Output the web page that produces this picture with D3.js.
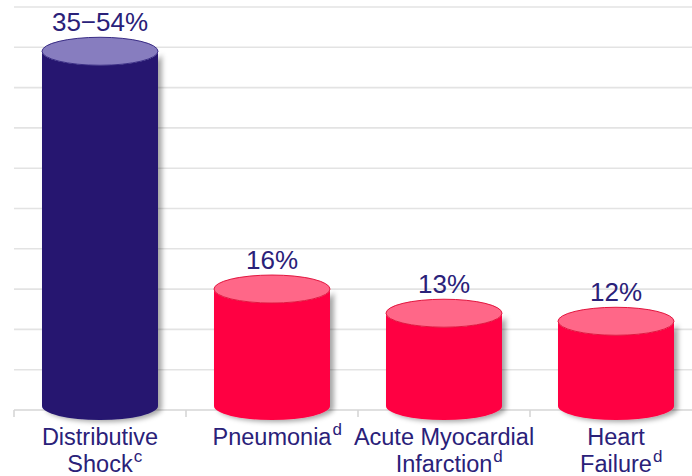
<!DOCTYPE html>
<html>
<head>
<meta charset="utf-8">
<script src="https://cdn.jsdelivr.net/npm/d3@7"></script>
<style>
  html, body { margin: 0; padding: 0; background: #fff; }
  svg { display: block; font-family: "Liberation Sans", Arial, sans-serif; }
</style>
</head>
<body>
<svg id="chart" width="692" height="476"></svg>
<script>
// Categories (first line, second line, footnote mark)
const categoryLine1 = ["Distributive", "Pneumonia", "Acute Myocardial", "Heart"];
const categoryLine2 = ["Shock", "", "Infarction", "Failure"];
const footnotes     = ["c", "d", "d", "d"];
const categoryKeys  = ["Distributive Shock", "Pneumonia", "Acute Myocardial Infarction", "Heart Failure"];

// Bar heights in percent (the first bar shows the reported range 35–54%)
const barValues   = [45.5, 16, 13, 12];
const rangeLabel  = [35, 54];
const valueLabels = [`${rangeLabel[0]}\u2212${rangeLabel[1]}%`, `${barValues[1]}%`, `${barValues[2]}%`, `${barValues[3]}%`];

// Gridline values
const gridTicks = [0, 5, 10, 15, 20, 25, 30, 35, 40, 45, 50];

const sideColors = ["#25176f", "#ff0342", "#ff0342", "#ff0342"];
const topColors  = ["#877dbf", "#ff6788", "#ff6788", "#ff6788"];
const rimColors  = ["#3a2d85", "#e2163f", "#e2163f", "#e2163f"];

const svg = d3.select("#chart");

const x = d3.scaleBand().domain(categoryKeys).range([14, 702]).padding(0);
const y = d3.scaleLinear().domain([0, 50]).range([410, 7]);

const barW = 116;
const ry = 14;
const depthShift = 8;          // cylinder sits in front of the back wall
const baseCy = y(0) - 4;       // centre of the bottom ellipse

// drop shadow
const defs = svg.append("defs");
const f = defs.append("filter").attr("id", "shadow")
  .attr("x", "-20%").attr("y", "-10%").attr("width", "140%").attr("height", "130%");
f.append("feDropShadow").attr("dx", 4).attr("dy", 2)
  .attr("stdDeviation", 2.5).attr("flood-color", "#000").attr("flood-opacity", 0.35);

// gridlines
svg.append("g").selectAll("line")
  .data(gridTicks.filter(d => d > 0))
  .join("line")
  .attr("x1", 14).attr("x2", 692)
  .attr("y1", d => y(d)).attr("y2", d => y(d))
  .attr("stroke", "#e3e3e3").attr("stroke-width", 1.6);

// baseline axis with ticks between categories
const axis = d3.axisBottom(x).tickSize(0).tickFormat("");
const axisG = svg.append("g").attr("transform", `translate(0,${y(0)})`).call(axis);
axisG.select(".domain").attr("stroke", "#d6d6d6").attr("stroke-width", 1.6)
  .attr("d", `M14,0H692`);
axisG.selectAll(".tick").remove();
axisG.selectAll("line.sep")
  .data(categoryKeys)
  .join("line")
  .attr("class", "sep")
  .attr("x1", d => x(d)).attr("x2", d => x(d))
  .attr("y1", 0).attr("y2", 7)
  .attr("stroke", "#d6d6d6").attr("stroke-width", 1.6);

// cylinders
const bars = svg.append("g").selectAll("g.bar")
  .data(categoryKeys.map((k, i) => ({ k, i, v: barValues[i] })))
  .join("g").attr("class", "bar");

bars.each(function(d) {
  const g = d3.select(this);
  const cx = x(d.k) + x.bandwidth() / 2;
  const rx = barW / 2;
  const topCy = y(d.v) + depthShift;
  const body = `M${cx - rx},${topCy} L${cx - rx},${baseCy} ` +
    `A${rx},${ry} 0 0 0 ${cx + rx},${baseCy} L${cx + rx},${topCy} ` +
    `A${rx},${ry} 0 0 1 ${cx - rx},${topCy} Z`;
  g.append("path").attr("d", body).attr("fill", sideColors[d.i]).attr("filter", "url(#shadow)");
  g.append("ellipse")
    .attr("cx", cx).attr("cy", topCy).attr("rx", rx).attr("ry", ry)
    .attr("fill", topColors[d.i]).attr("stroke", rimColors[d.i]).attr("stroke-width", 1);
  // value label
  g.append("text")
    .attr("x", cx).attr("y", topCy - 20)
    .attr("text-anchor", "middle")
    .attr("font-size", 26).attr("fill", "#2a2179")
    .text(valueLabels[d.i]);
});

// category labels
const labels = svg.append("g").selectAll("g.lab")
  .data(categoryKeys.map((k, i) => ({ k, i })))
  .join("g").attr("class", "lab");

labels.each(function(d) {
  const g = d3.select(this);
  const cx = x(d.k) + x.bandwidth() / 2;
  const lines = [categoryLine1[d.i], categoryLine2[d.i]].filter(s => s);
  lines.forEach((s, j) => {
    const t = g.append("text")
      .attr("x", cx).attr("y", 445 + j * 27)
      .attr("text-anchor", "middle")
      .attr("font-size", 23.5).attr("fill", "#2a2179")
      .text(s);
    if (j === lines.length - 1) {
      const w = t.node().getComputedTextLength();
      g.append("text")
        .attr("x", cx + w / 2 + 1).attr("y", 445 + j * 27 - 10)
        .attr("font-size", 17).attr("fill", "#2a2179")
        .text(footnotes[d.i]);
    }
  });
});
</script>
</body>
</html>
